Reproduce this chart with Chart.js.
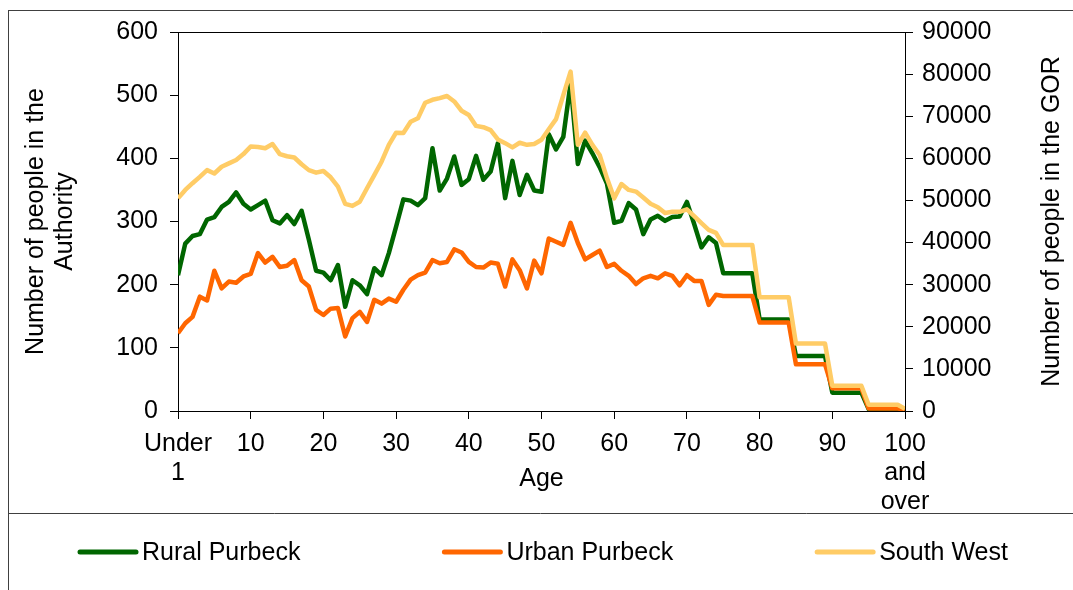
<!DOCTYPE html>
<html lang="en">
<head>
  <meta charset="UTF-8">
  <title>Population by single year of age</title>
  <script src="https://cdn.jsdelivr.net/npm/chart.js"></script>
  <style>
    html, body {
      margin: 0;
      padding: 0;
      background: #fff;
    }
    #chart-container {
      width: 1073px;
      height: 590px;
    }
  </style>
</head>
<body>
<div id="chart-container">
  <canvas id="ageChart"></canvas>
</div>

<script>
  // Age 0 ("Under 1") to 100 ("100 and over")
  const ages = [];
  for (let a = 0; a <= 100; a++) ages.push(a);

  const ageTickLabels = [['Under', '1'], '10', '20', '30', '40', '50', '60', '70', '80', '90', ['100', 'and', 'over']];

  const seriesNames = ['Rural Purbeck', 'Urban Purbeck', 'South West'];
  const seriesColors = ['#006600', '#ff6600', '#ffcc66'];

  // Authority (left axis)
  const ruralPurbeck = [
    215, 265, 277, 280, 303, 307, 323, 331, 346, 328,
    319, 326, 333, 302, 297, 310, 296, 317, 271, 222,
    219, 207, 231, 165, 207, 199, 185, 226, 215, 250,
    292, 335, 333, 326, 337, 416, 349, 368, 403, 358,
    367, 404, 366, 379, 424, 337, 396, 342, 374, 349,
    347, 438, 414, 434, 519, 391, 428, 408, 386, 360,
    298, 301, 329, 319, 280, 303, 309, 301, 307, 308,
    331, 296, 259, 275, 266, 218, 218, 218, 218, 218,
    145, 145, 145, 145, 145, 87, 87, 87, 87, 87,
    29, 29, 29, 29, 29, 3, 3, 3, 3, 3,
    1
  ];

  const urbanPurbeck = [
    123, 139, 149, 181, 175, 222, 194, 205, 203, 213,
    217, 250, 235, 244, 228, 230, 239, 207, 197, 160,
    152, 162, 163, 118, 147, 157, 141, 176, 170, 178,
    173, 192, 208, 215, 219, 239, 234, 236, 256, 251,
    236, 228, 227, 235, 233, 197, 240, 223, 194, 238,
    218, 273, 268, 263, 298, 266, 240, 247, 254, 228,
    233, 222, 214, 201, 210, 214, 210, 218, 214, 199,
    215, 206, 206, 168, 184, 182, 182, 182, 182, 182,
    140, 140, 140, 140, 140, 74, 74, 74, 74, 74,
    36, 36, 36, 36, 36, 4, 4, 4, 4, 4,
    2
  ];

  // GOR (right axis)
  const southWest = [
    50500, 52500, 54100, 55600, 57200, 56400, 58000, 58800, 59600, 61000,
    62800, 62700, 62400, 63400, 61000, 60500, 60200, 58600, 57200, 56600,
    57000, 55500, 53300, 49200, 48700, 49700, 52900, 56000, 59200, 63200,
    66100, 66000, 68700, 69500, 73200, 73900, 74300, 74800, 73500, 71300,
    70300, 67700, 67400, 66700, 64500, 63600, 62600, 63700, 63200, 63400,
    64400, 66900, 69300, 75000, 80600, 63200, 66100, 63200, 60800, 55300,
    50500, 53900, 52500, 52100, 50700, 49200, 48400, 47000, 47300, 47300,
    47900, 46300, 44600, 43000, 42300, 39400, 39400, 39400, 39400, 39400,
    27000, 27000, 27000, 27000, 27000, 16000, 16000, 16000, 16000, 16000,
    6000, 6000, 6000, 6000, 6000, 1500, 1500, 1500, 1500, 1500,
    500
  ];

  const FONT = "'Liberation Sans', Arial, sans-serif";
  const toPoints = (values) => ages.map((a, i) => ({ x: a, y: values[i] }));

  // frame lines, right axis title and legend
  const framePlugin = {
    id: 'frame',
    afterDraw(chart) {
      const { ctx, chartArea } = chart;
      ctx.save();
      ctx.strokeStyle = '#404040';
      ctx.lineWidth = 1;
      ctx.strokeRect(8.5, 10.5, 1100, 600);
      ctx.beginPath();
      ctx.moveTo(8, 513.5);
      ctx.lineTo(1073, 513.5);
      ctx.stroke();

      ctx.strokeStyle = '#000';
      ctx.beginPath();
      ctx.moveTo(chartArea.left, chartArea.top + 0.5);
      ctx.lineTo(chartArea.right, chartArea.top + 0.5);
      ctx.stroke();

      // right axis title reads bottom-to-top
      ctx.fillStyle = '#000';
      ctx.font = '25px ' + FONT;
      ctx.textAlign = 'center';
      ctx.textBaseline = 'middle';
      ctx.translate(1052, (chartArea.top + chartArea.bottom) / 2);
      ctx.rotate(-Math.PI / 2);
      ctx.fillText('Number of people in the GOR', 0, 0);
      ctx.setTransform(1, 0, 0, 1, 0, 0);

      // legend
      let x = 80;
      const y = 552;
      ctx.textAlign = 'left';
      seriesNames.forEach((name, i) => {
        ctx.strokeStyle = seriesColors[i];
        ctx.lineWidth = 5;
        ctx.lineCap = 'round';
        ctx.beginPath();
        ctx.moveTo(x, y);
        ctx.lineTo(x + 56, y);
        ctx.stroke();
        ctx.fillStyle = '#000';
        ctx.fillText(name, x + 62, y + 1);
        x += 62 + ctx.measureText(name).width + 144;
      });
      ctx.restore();
    }
  };

  const makeDataset = (i, values, axis, order) => ({
    label: seriesNames[i],
    data: toPoints(values),
    yAxisID: axis,
    borderColor: seriesColors[i],
    backgroundColor: seriesColors[i],
    borderWidth: 4.5,
    borderJoinStyle: 'round',
    pointRadius: 0,
    tension: 0,
    order: order
  });

  const ctx = document.getElementById('ageChart').getContext('2d');
  const ageChart = new Chart(ctx, {
    type: 'line',
    data: {
      datasets: [
        makeDataset(0, ruralPurbeck, 'y', 3),
        makeDataset(1, urbanPurbeck, 'y', 2),
        makeDataset(2, southWest, 'y1', 1)
      ]
    },
    options: {
      responsive: true,
      maintainAspectRatio: false,
      animation: false,
      layout: { padding: { top: 32, bottom: 77, left: 0, right: 0 } },
      plugins: {
        legend: { display: false },
        tooltip: { enabled: false }
      },
      scales: {
        x: {
          type: 'linear',
          min: 0,
          max: 100,
          afterFit: (scale) => { scale.height = 102; },
          ticks: {
            stepSize: 10,
            maxRotation: 0,
            autoSkip: false,
            padding: 11,
            color: '#000',
            font: { family: FONT, size: 25, lineHeight: 1.16 },
            callback: (value) => ageTickLabels[value / 10]
          },
          grid: { drawOnChartArea: false, drawTicks: true, tickLength: 8, color: '#000' },
          border: { display: true, color: '#000', width: 1 },
          title: {
            display: true,
            text: 'Age',
            color: '#000',
            font: { family: FONT, size: 25, lineHeight: 1.2 },
            padding: { top: 0, bottom: 19 }
          }
        },
        y: {
          position: 'left',
          min: 0,
          max: 600,
          afterFit: (scale) => { scale.width = 178; },
          ticks: {
            stepSize: 100,
            padding: 12,
            color: '#000',
            font: { family: FONT, size: 25 }
          },
          grid: { drawOnChartArea: false, drawTicks: true, tickLength: 8, color: '#000' },
          border: { display: true, color: '#000', width: 1 },
          title: {
            display: true,
            text: ['Number of people in the', 'Authority'],
            color: '#000',
            font: { family: FONT, size: 25, lineHeight: 1.15 },
            padding: { top: 22, bottom: 0 }
          }
        },
        y1: {
          position: 'right',
          min: 0,
          max: 90000,
          afterFit: (scale) => { scale.width = 168; },
          ticks: {
            stepSize: 10000,
            padding: 9,
            color: '#000',
            font: { family: FONT, size: 25 },
            callback: (value) => String(value)
          },
          grid: { drawOnChartArea: false, drawTicks: true, tickLength: 8, color: '#000' },
          border: { display: true, color: '#000', width: 1 }
        }
      }
    },
    plugins: [framePlugin]
  });
</script>
</body>
</html>
